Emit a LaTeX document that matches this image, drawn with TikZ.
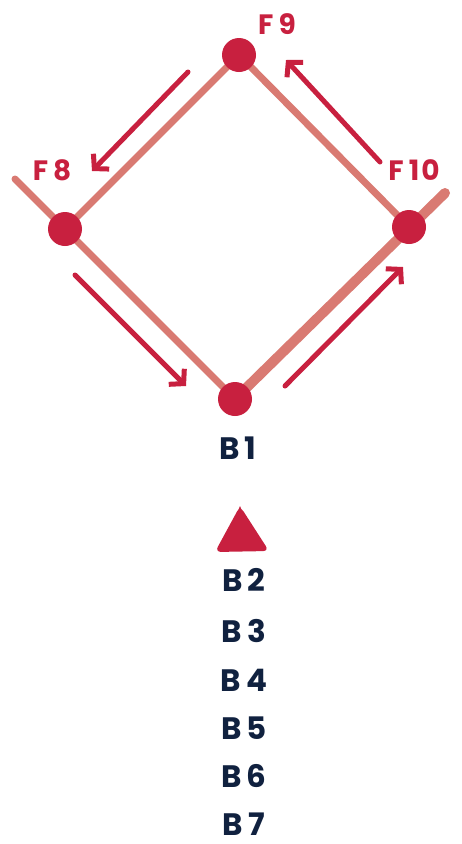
\documentclass[tikz,border=0pt]{standalone}
\usepackage{fontspec}
\setmainfont{Poppins}[UprightFont=* Bold]
\usetikzlibrary{arrows.meta}
\definecolor{dotred}{HTML}{C8203F}
\definecolor{linepink}{HTML}{D97A72}
\definecolor{navy}{HTML}{10213F}
\newcommand{\gp}{\hspace{5pt}}
\begin{document}
\begin{tikzpicture}[x=1pt,y=-1pt,
  dot/.style={circle,fill=dotred,minimum size=34pt,inner sep=0pt},
  edge/.style={linepink,line width=7pt,line cap=round},
  flow/.style={dotred,line width=5pt,line cap=round,-{Straight Barb[length=10pt,width=22pt,line width=5pt]}},
  flab/.style={dotred,inner sep=0pt,font=\fontsize{28}{28}\selectfont},
  blab/.style={navy,inner sep=0pt,font=\fontsize{31}{31}\selectfont}]
\useasboundingbox (0,0) rectangle (461,844);
\fill[white] (0,0) rectangle (461,844);
% positions
\coordinate (pf9) at (239,55);
\coordinate (pf8) at (65,229);
\coordinate (pf10) at (409,227);
\coordinate (pb1) at (235,399);
\coordinate (e8) at (15,179);
\coordinate (e10) at (445,193);
% edges
\draw[edge] (pf9) -- (pf8);
\draw[edge] (pf9) -- (pf10);
\draw[edge] (e8) -- (pb1);
\draw[edge,line width=10pt] (pb1) -- (e10);
% dots
\node[dot] (f9) at (pf9) {};
\node[dot] (f8) at (pf8) {};
\node[dot] (f10) at (pf10) {};
\node[dot] (b1) at (pb1) {};
% flow arrows
\coordinate (a1s) at (188,72);  \coordinate (a1e) at (92,171);
\coordinate (a2s) at (75,275);  \coordinate (a2e) at (186,386);
\coordinate (a3s) at (285,386); \coordinate (a3e) at (403,267);
\coordinate (a4s) at (380,162); \coordinate (a4e) at (286,60);
\draw[flow] (a1s) -- (a1e);
\draw[flow] (a2s) -- (a2e);
\draw[flow] (a3s) -- (a3e);
\draw[flow] (a4s) -- (a4e);
% labels
\node[flab] (lf9) at (277,24) {F\gp9};
\node[flab] (lf8) at (52,170) {F\gp8};
\node[flab] (lf10) at (414,170) {F\gp1\hspace{2pt}0};
\node[blab] (lb1) at (238,448) {B\gp1};
% triangle
\fill[dotred,rounded corners=6pt] (240,506) -- (269,551) -- (215,552) -- cycle;
\fill[dotred] (240,506) -- (250,530) -- (230,530) -- cycle;
\node[blab] (lb2) at (244,580) {B\gp2};
\node[blab] (lb3) at (244,631) {B\gp3};
\node[blab] (lb4) at (244,680) {B\gp4};
\node[blab] (lb5) at (244,728) {B\gp5};
\node[blab] (lb6) at (244,776) {B\gp6};
\node[blab] (lb7) at (244,824) {B\gp7};
\end{tikzpicture}
\end{document}
